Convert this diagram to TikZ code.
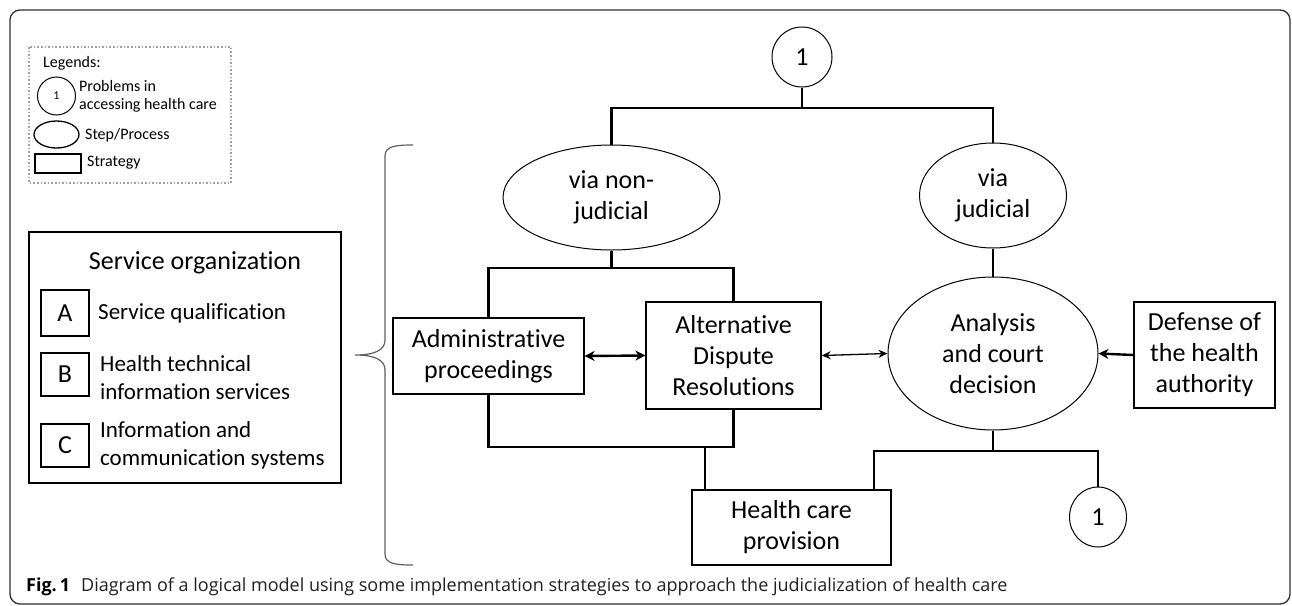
\documentclass[tikz,border=0pt]{standalone}
\usepackage{fontspec}
\setmainfont{Carlito}[Ligatures=NoCommon]
\newfontfamily\capfont{Open Sans}
\usetikzlibrary{shapes.geometric,arrows.meta}
\definecolor{legendgray}{HTML}{A0A0A0}
\definecolor{bracegray}{HTML}{606060}
\definecolor{framegray}{HTML}{303030}
\definecolor{captext}{HTML}{202020}
\tikzset{
  maintext/.style={font=\fontsize{26}{31}\selectfont, align=center, inner sep=0pt},
  boxnode/.style={maintext, draw, rectangle, line width=1.3pt},
  ovalnode/.style={maintext, draw, ellipse, line width=1pt},
  tree/.style={line width=2.6pt},
  thickarrow/.style={line width=2.4pt, arrows={Stealth[length=10pt,width=10pt]-Stealth[length=10pt,width=10pt]}},
  thickarrowone/.style={line width=2.4pt, arrows={-Stealth[length=10pt,width=10pt]}},
  thinarrow/.style={line width=1.3pt, arrows={Stealth[length=9pt,width=8pt]-Stealth[length=9pt,width=8pt]}},
  legtext/.style={font=\fontsize{16}{18}\selectfont, align=left, inner sep=0pt, anchor=west},
  itemtext/.style={font=\fontsize{23}{28}\selectfont, align=left, inner sep=0pt, anchor=west},
}
\begin{document}
\begin{tikzpicture}[x=1pt,y=-1pt]
\useasboundingbox (0,0) rectangle (1292,605);
% outer frame
\draw[framegray, line width=1.3pt, rounded corners=10pt] (10,10) rectangle (1290,604);

% legend
\draw[legendgray, dotted, line width=1.6pt] (29,47) rectangle (231,183);
\node[legtext] (legtitle) at (43,63) {Legends:};
\node[draw, circle, minimum size=38pt, inner sep=0pt, line width=1pt, font=\fontsize{12}{14}\selectfont] (legcirc) at (56.5,96) {1};
\node[legtext] (legcirctext) at (79,96) {Problems in\\accessing health care};
\node[draw, ellipse, minimum width=45pt, minimum height=27pt, inner sep=0pt, line width=1.3pt] (legoval) at (56.5,134.5) {};
\node[legtext] (legovaltext) at (85,135) {Step/Process};
\node[draw, rectangle, minimum width=46pt, minimum height=19pt, inner sep=0pt, line width=1.1pt] (legrect) at (58,163.5) {};
\node[legtext] (legrecttext) at (87,163) {Strategy};

% service organization
\node[draw, rectangle, line width=1.3pt, minimum width=312pt, minimum height=251pt, inner sep=0pt] (servbox) at (185,357.5) {};
\node[maintext] (servtitle) at (195,263) {Service organization};
\node[boxnode, minimum width=48pt, minimum height=46pt] (boxA) at (65,313) {A};
\node[boxnode, minimum width=48pt, minimum height=43pt] (boxB) at (65,374.5) {B};
\node[boxnode, minimum width=48pt, minimum height=43pt] (boxC) at (65,445.5) {C};
\node[itemtext] (textA) at (98,313) {Service qualification};
\node[itemtext] (textB) at (100,378) {Health technical\\information services};
\node[itemtext] (textC) at (100,445.5) {Information and\\communication systems};

% brace
\draw[bracegray, line width=1.2pt] (413,145) .. controls (396,145) and (385,146) .. (385,156) -- (385,340)
  .. controls (385,350) and (375,355) .. (355,355)
  .. controls (375,355) and (385,360) .. (385,370) -- (385,554)
  .. controls (385,564) and (396,565) .. (413,565);

% main nodes
\node[draw, circle, minimum size=60pt, inner sep=0pt, line width=1pt, maintext] (top1) at (802,57) {1};
\node[ovalnode, minimum width=217pt, minimum height=105pt] (vnj) at (611.5,197.5) {via non-\\judicial};
\node[ovalnode, minimum width=147pt, minimum height=105pt] (vj) at (993,195.5) {via\\judicial};
\node[boxnode, minimum width=191pt, minimum height=76pt] (admin) at (488.5,356) {Administrative\\proceedings};
\node[boxnode, minimum width=175pt, minimum height=107pt] (adr) at (733.5,355.5) {Alternative\\Dispute\\Resolutions};
\node[ovalnode, minimum width=210pt, minimum height=153pt] (anal) at (993,353.5) {Analysis\\and court\\decision};
\node[boxnode, minimum width=141pt, minimum height=106pt] (def) at (1204.5,355) {Defense of\\the health\\authority};
\node[boxnode, minimum width=199pt, minimum height=75pt] (hcp) at (791.5,527.5) {Health care\\provision};
\node[ovalnode, minimum width=57pt, minimum height=60pt] (bot1) at (1098,517) {1};

% junctions
\coordinate (j1) at (802,108);
\coordinate (j2) at (611.5,268);
\coordinate (j3) at (705,447);
\coordinate (j4) at (993,451);
\coordinate (j5) at (874,451);

% tree connectors
\draw[tree] (top1.south) -- (j1);
\draw[tree] (vnj.north) |- (j1) -| (vj.north);
\draw[tree] (vnj.south) -- (j2);
\draw[tree] (admin.north) |- (j2) -| (adr.north);
\draw[tree] (admin.south) |- (j3) -| (adr.south);
\draw[tree] (j3) -- (j3 |- hcp.north);
\draw[tree] (vj.south) -- (anal.north);
\draw[tree] (anal.south) -- (j4);
\draw[tree] (j5 |- hcp.north) |- (j4) -| (bot1.north);

% arrows
\draw[thickarrow] (admin.east) -- (adr.west);
\draw[thinarrow] (adr.east) -- (anal.west);
\draw[thickarrowone] (def.west) -- (anal.east);

% caption
\node[anchor=west, inner sep=0pt, text=captext, font=\capfont\fontsize{18}{21}\selectfont] (caption) at (26,587) {\textbf{\color{black}Fig.\,1}\hspace{11pt}Diagram of a logical model using some implementation strategies to approach the judicialization of health care};
\end{tikzpicture}
\end{document}
